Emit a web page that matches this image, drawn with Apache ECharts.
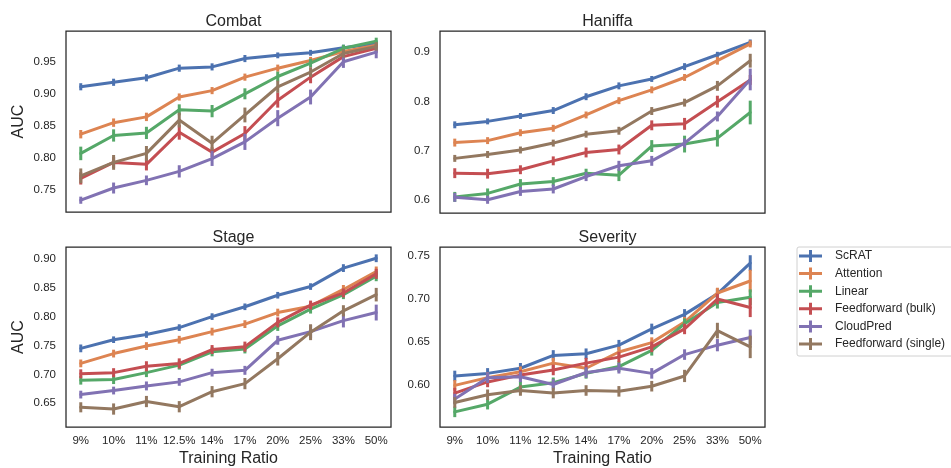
<!DOCTYPE html>
<html>
<head>
<meta charset="utf-8">
<script src="https://cdn.jsdelivr.net/npm/echarts@6/dist/echarts.min.js"></script>
<style>html,body{margin:0;background:#fff}#chart{width:951px;height:468px}</style>
</head>
<body>
<div id="chart"></div>
<script>
var ratios = ['9%', '10%', '11%', '12.5%', '14%', '17%', '20%', '25%', '33%', '50%'];
var methods = ['ScRAT', 'Attention', 'Linear', 'Feedforward (bulk)', 'CloudPred', 'Feedforward (single)'];
var colors = ['#4C72B0', '#DD8452', '#55A868', '#C44E52', '#8172B3', '#937860'];

// mean AUC, one row per method (same order as methods)
var combatAUC = [
    [0.911, 0.918, 0.925, 0.940, 0.942, 0.955, 0.960, 0.964, 0.972, 0.978],
    [0.837, 0.855, 0.864, 0.895, 0.905, 0.926, 0.940, 0.952, 0.966, 0.976],
    [0.807, 0.835, 0.839, 0.875, 0.873, 0.900, 0.927, 0.948, 0.971, 0.982],
    [0.768, 0.793, 0.790, 0.840, 0.809, 0.838, 0.890, 0.926, 0.958, 0.971],
    [0.734, 0.753, 0.765, 0.779, 0.799, 0.825, 0.862, 0.895, 0.950, 0.965],
    [0.772, 0.793, 0.807, 0.859, 0.823, 0.867, 0.911, 0.934, 0.963, 0.974]
];
var combatErr = [
    [0.004, 0.004, 0.004, 0.004, 0.004, 0.004, 0.003, 0.003, 0.003, 0.003],
    [0.005, 0.005, 0.005, 0.004, 0.004, 0.004, 0.004, 0.004, 0.003, 0.003],
    [0.009, 0.008, 0.008, 0.007, 0.008, 0.007, 0.006, 0.005, 0.004, 0.004],
    [0.008, 0.007, 0.008, 0.010, 0.006, 0.010, 0.010, 0.008, 0.005, 0.005],
    [0.004, 0.007, 0.006, 0.008, 0.010, 0.011, 0.011, 0.010, 0.008, 0.008],
    [0.010, 0.010, 0.010, 0.010, 0.010, 0.010, 0.008, 0.006, 0.005, 0.005]
];

var haniffaAUC = [
    [0.753, 0.760, 0.771, 0.782, 0.810, 0.832, 0.846, 0.871, 0.895, 0.920],
    [0.717, 0.721, 0.737, 0.746, 0.773, 0.802, 0.824, 0.849, 0.883, 0.917],
    [0.607, 0.614, 0.633, 0.638, 0.655, 0.651, 0.710, 0.714, 0.726, 0.778],
    [0.655, 0.654, 0.662, 0.680, 0.697, 0.703, 0.752, 0.755, 0.800, 0.844],
    [0.606, 0.601, 0.618, 0.623, 0.648, 0.670, 0.680, 0.716, 0.770, 0.845],
    [0.685, 0.693, 0.702, 0.716, 0.734, 0.741, 0.781, 0.798, 0.832, 0.883]
];
var haniffaErr = [
    [0.005, 0.004, 0.004, 0.005, 0.005, 0.005, 0.004, 0.005, 0.004, 0.004],
    [0.006, 0.005, 0.005, 0.005, 0.005, 0.005, 0.005, 0.005, 0.006, 0.005],
    [0.008, 0.008, 0.008, 0.007, 0.007, 0.010, 0.010, 0.015, 0.015, 0.022],
    [0.008, 0.008, 0.007, 0.007, 0.008, 0.008, 0.008, 0.010, 0.010, 0.008],
    [0.007, 0.006, 0.007, 0.007, 0.007, 0.008, 0.008, 0.007, 0.008, 0.020],
    [0.005, 0.005, 0.005, 0.005, 0.005, 0.006, 0.006, 0.006, 0.008, 0.012]
];

var stageAUC = [
    [0.745, 0.760, 0.769, 0.781, 0.800, 0.817, 0.837, 0.852, 0.884, 0.901],
    [0.719, 0.736, 0.749, 0.760, 0.774, 0.787, 0.807, 0.818, 0.847, 0.878],
    [0.690, 0.691, 0.703, 0.716, 0.739, 0.744, 0.784, 0.813, 0.838, 0.870],
    [0.701, 0.703, 0.714, 0.719, 0.743, 0.748, 0.790, 0.820, 0.841, 0.874],
    [0.665, 0.672, 0.680, 0.687, 0.703, 0.707, 0.759, 0.774, 0.793, 0.807],
    [0.643, 0.640, 0.653, 0.644, 0.670, 0.684, 0.727, 0.773, 0.810, 0.838]
];
var stageErr = [
    [0.005, 0.004, 0.004, 0.004, 0.004, 0.004, 0.004, 0.004, 0.005, 0.005],
    [0.005, 0.005, 0.005, 0.005, 0.005, 0.005, 0.005, 0.005, 0.006, 0.007],
    [0.006, 0.006, 0.006, 0.006, 0.006, 0.006, 0.007, 0.006, 0.006, 0.007],
    [0.006, 0.006, 0.007, 0.007, 0.006, 0.007, 0.007, 0.006, 0.006, 0.007],
    [0.005, 0.005, 0.006, 0.005, 0.005, 0.006, 0.006, 0.010, 0.010, 0.012],
    [0.007, 0.008, 0.008, 0.008, 0.008, 0.008, 0.010, 0.012, 0.008, 0.010]
];

var severityAUC = [
    [0.610, 0.613, 0.619, 0.634, 0.636, 0.646, 0.665, 0.682, 0.706, 0.742],
    [0.599, 0.608, 0.615, 0.625, 0.619, 0.638, 0.649, 0.673, 0.707, 0.721],
    [0.568, 0.577, 0.597, 0.602, 0.613, 0.621, 0.640, 0.671, 0.696, 0.702],
    [0.590, 0.603, 0.611, 0.617, 0.625, 0.632, 0.644, 0.665, 0.700, 0.690],
    [0.583, 0.608, 0.609, 0.600, 0.614, 0.619, 0.613, 0.635, 0.646, 0.655],
    [0.579, 0.588, 0.593, 0.590, 0.593, 0.592, 0.598, 0.610, 0.663, 0.644]
];
var severityErr = [
    [0.005, 0.005, 0.005, 0.005, 0.005, 0.005, 0.005, 0.005, 0.005, 0.008],
    [0.005, 0.005, 0.005, 0.005, 0.005, 0.005, 0.005, 0.005, 0.005, 0.012],
    [0.005, 0.005, 0.006, 0.005, 0.005, 0.005, 0.005, 0.005, 0.006, 0.008],
    [0.005, 0.005, 0.005, 0.005, 0.005, 0.005, 0.005, 0.005, 0.005, 0.010],
    [0.005, 0.005, 0.005, 0.005, 0.005, 0.005, 0.005, 0.005, 0.006, 0.008],
    [0.005, 0.005, 0.005, 0.005, 0.005, 0.005, 0.005, 0.006, 0.008, 0.012]
];

var combatTicks = [0.75, 0.80, 0.85, 0.90, 0.95];
var haniffaTicks = [0.6, 0.7, 0.8, 0.9];
var stageTicks = [0.65, 0.70, 0.75, 0.80, 0.85, 0.90];
var severityTicks = [0.60, 0.65, 0.70, 0.75];

var panels = [
    { title: 'Combat', auc: combatAUC, err: combatErr, ticks: combatTicks, digits: 2, min: 0.7156, max: 0.998,
      left: 66, top: 31, height: 181, yName: 'AUC', xLabels: false },
    { title: 'Haniffa', auc: haniffaAUC, err: haniffaErr, ticks: haniffaTicks, digits: 1, min: 0.5743, max: 0.9432,
      left: 440, top: 31, height: 182, yName: '', xLabels: false },
    { title: 'Stage', auc: stageAUC, err: stageErr, ticks: stageTicks, digits: 2, min: 0.6089, max: 0.9205,
      left: 66, top: 247, height: 182, yName: 'AUC', xLabels: true },
    { title: 'Severity', auc: severityAUC, err: severityErr, ticks: severityTicks, digits: 2, min: 0.5503, max: 0.7608,
      left: 440, top: 247, height: 182, yName: '', xLabels: true }
];

var textColor = '#262626';
var font = 'Liberation Sans';
var xIdx = ratios.map(function (r, i) { return i; });

var grids = [], xAxes = [], yAxes = [], titles = [], series = [];

panels.forEach(function (p, k) {
    grids.push({
        left: p.left, top: p.top, width: 325, height: p.height,
        show: true, borderColor: textColor, borderWidth: 1.25, backgroundColor: '#fff'
    });
    titles.push({
        text: p.title, left: p.left + 162.5, top: p.top - 22, textAlign: 'center',
        textStyle: { fontFamily: font, fontSize: 16, fontWeight: 'normal', color: textColor }
    });
    xAxes.push({
        type: 'value', gridIndex: k, min: -0.45, max: 9.45,
        splitLine: { show: false }, axisLine: { show: false }, axisTick: { show: false },
        axisLabel: {
            show: p.xLabels, customValues: xIdx, margin: 8,
            fontFamily: font, fontSize: 11.5, color: textColor,
            formatter: function (v) { return ratios[Math.round(v)]; }
        },
        name: p.xLabels ? 'Training Ratio' : '', nameLocation: 'middle', nameGap: 24,
        nameTextStyle: { fontFamily: font, fontSize: 16, color: textColor }
    });
    yAxes.push({
        type: 'value', gridIndex: k, min: p.min, max: p.max,
        splitLine: { show: false }, axisLine: { show: false }, axisTick: { show: false },
        axisLabel: {
            customValues: p.ticks, margin: 10,
            fontFamily: font, fontSize: 11.5, color: textColor,
            formatter: (function (d) { return function (v) { return v.toFixed(d); }; })(p.digits)
        },
        name: p.yName, nameLocation: 'middle', nameGap: 39,
        nameTextStyle: { fontFamily: font, fontSize: 16, color: textColor }
    });

    methods.forEach(function (m, j) {
        var vals = p.auc[j], errs = p.err[j];
        series.push({
            name: m, type: 'line', xAxisIndex: k, yAxisIndex: k,
            data: vals.map(function (v, i) { return [i, v]; }),
            symbol: 'none', color: colors[j],
            lineStyle: { width: 3, color: colors[j], join: 'round', cap: 'round' },
            z: 2 + j * 0.1
        });
        series.push({
            name: m, type: 'custom', xAxisIndex: k, yAxisIndex: k,
            data: vals.map(function (v, i) { return [i, v - errs[i], v + errs[i]]; }),
            encode: { x: 0, y: [1, 2] },
            color: colors[j],
            z: 2 + j * 0.1,
            renderItem: (function (c) {
                return function (params, api) {
                    var a = api.coord([api.value(0), api.value(1)]);
                    var b = api.coord([api.value(0), api.value(2)]);
                    return {
                        type: 'line',
                        shape: { x1: a[0], y1: a[1] + 1, x2: b[0], y2: b[1] - 1 },
                        style: { stroke: c, lineWidth: 3 }
                    };
                };
            })(colors[j])
        });
    });
});

var myChart = echarts.init(document.getElementById('chart'));
var option = {
    animation: false,
    backgroundColor: '#fff',
    title: titles,
    grid: grids,
    xAxis: xAxes,
    yAxis: yAxes,
    legend: {
        orient: 'vertical', left: 797, top: 247,
        data: methods.map(function (m) {
            return { name: m, icon: 'path://M0,9H46V15H0Z M20,0H26V24H20Z' };
        }),
        itemWidth: 23, itemHeight: 12, itemGap: 5.6,
        padding: [3, 8, 6, 2],
        borderColor: '#d0d0d0', borderWidth: 1, borderRadius: 2,
        textStyle: { fontFamily: font, fontSize: 12, color: textColor, lineHeight: 12, padding: [0, 0, 0, 8] }
    },
    series: series
};

myChart.setOption(option);
window.addEventListener('resize', function () {
    myChart.resize();
});
</script>
</body>
</html>
